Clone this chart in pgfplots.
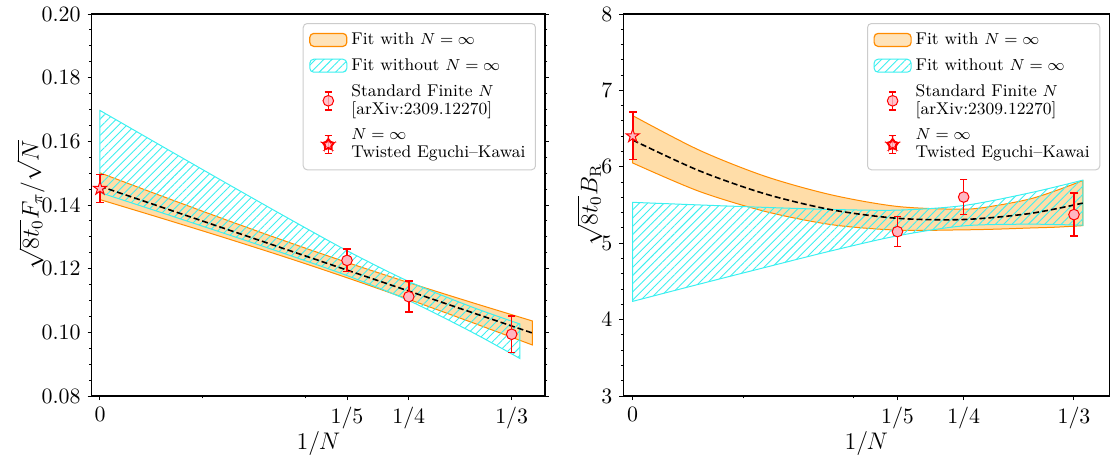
\documentclass[border=0pt]{standalone}
\usepackage{pgfplots}
\pgfplotsset{compat=1.18}
\usepgfplotslibrary{fillbetween}
\usetikzlibrary{patterns.meta}
\definecolor{bandfill}{RGB}{255,221,168}
\definecolor{bandedge}{RGB}{255,140,0}
\definecolor{hatch}{RGB}{60,240,240}
\definecolor{ptfill}{RGB}{255,182,193}
\pgfdeclareplotmark{fstar}{%
  \pgfpathmoveto{\pgfqpoint{0pt}{1\pgfplotmarksize}}%
  \pgfpathlineto{\pgfqpoint{-0.2245\pgfplotmarksize}{0.309\pgfplotmarksize}}%
  \pgfpathlineto{\pgfqpoint{-0.951\pgfplotmarksize}{0.309\pgfplotmarksize}}%
  \pgfpathlineto{\pgfqpoint{-0.3633\pgfplotmarksize}{-0.118\pgfplotmarksize}}%
  \pgfpathlineto{\pgfqpoint{-0.588\pgfplotmarksize}{-0.809\pgfplotmarksize}}%
  \pgfpathlineto{\pgfqpoint{0pt}{-0.382\pgfplotmarksize}}%
  \pgfpathlineto{\pgfqpoint{0.588\pgfplotmarksize}{-0.809\pgfplotmarksize}}%
  \pgfpathlineto{\pgfqpoint{0.3633\pgfplotmarksize}{-0.118\pgfplotmarksize}}%
  \pgfpathlineto{\pgfqpoint{0.951\pgfplotmarksize}{0.309\pgfplotmarksize}}%
  \pgfpathlineto{\pgfqpoint{0.2245\pgfplotmarksize}{0.309\pgfplotmarksize}}%
  \pgfpathclose
  \pgfusepathqfillstroke}

\pgfplotstableread{
x up lo
0 0.1501 0.1417
0.05 0.14281 0.13583
0.1 0.13563 0.12983
0.15 0.12866 0.12364
0.2 0.12197 0.11715
0.25 0.11561 0.11035
0.3 0.10951 0.10327
0.35 0.10358 0.09604
}\Lorange
\pgfplotstableread{
x up lo
0 0.1697 0.1439
0.05 0.15851 0.13757
0.1 0.14737 0.13117
0.15 0.13636 0.12466
0.2 0.12565 0.11783
0.25 0.11598 0.10998
0.3 0.10812 0.1003
0.34 0.10262 0.09178
}\Lcyan
\pgfplotstableread{
x y
0 0.1459
0.35 0.0998
}\Lfit
\pgfplotstableread{
x y e hi lo
0.2 0.1226 0.0035 0.1261 0.1191
0.25 0.1112 0.0049 0.1161 0.1063
0.33333 0.0994 0.0057 0.1051 0.0937
}\Lfinite
\pgfplotstableread{
x y e hi lo
0 0.1452 0.0044 0.1496 0.1408
}\Ltek

\pgfplotstableread{
x up lo
0 6.67 6.05
0.05 6.220 5.680
0.1 5.876 5.416
0.15 5.633 5.243
0.2 5.481 5.171
0.25 5.445 5.175
0.275 5.494 5.184
0.3 5.579 5.199
0.32 5.690 5.210
0.34 5.820 5.230
}\Rorange
\pgfplotstableread{
x up lo
0 5.535 4.239
0.05 5.501 4.463
0.1 5.469 4.683
0.15 5.442 4.900
0.2 5.433 5.097
0.25 5.493 5.227
0.3 5.659 5.249
0.34 5.825 5.235
}\Rcyan
\pgfplotstableread{
x y
0 6.35
0.05 5.950
0.1 5.646
0.15 5.438
0.2 5.326
0.25 5.310
0.3 5.389
0.34 5.525
}\Rfit
\pgfplotstableread{
x y e hi lo
0.2 5.152 0.196 5.348 4.956
0.25 5.604 0.228 5.832 5.376
0.33333 5.374 0.283 5.657 5.091
}\Rfinite
\pgfplotstableread{
x y e hi lo
0 6.404 0.31 6.714 6.094
}\Rtek

\pgfplotsset{
  common/.style={
    scale only axis,
    height=191pt,
    axis line style={black, line width=0.6pt},
    tick align=outside,
    xtick pos=lower,
    major tick length=2pt,
    minor tick length=1.2pt,
    tick style={black, line width=0.5pt},
    xtick={0,0.2,0.25,0.33333},
    xticklabels={$0$,$1/5$,$1/4$,$1/3$},
    minor xtick={0.08333,0.16667},
    ticklabel style={font=\fontsize{11}{13}\selectfont},
    label style={font=\fontsize{12}{14}\selectfont},
    xlabel={$1/N$},
    xlabel style={at={(axis description cs:0.5,0)}, anchor=base, yshift=-26.5pt},
    legend cell align=left,
    legend style={at={(1,1)}, anchor=north east, xshift=-4.5pt, yshift=-4.5pt,
      draw=black!20, fill=white, fill opacity=0.8, text opacity=1, draw opacity=1,
      rounded corners=2pt, line width=0.5pt,
      font=\fontsize{8.5}{9.2}\selectfont,
      cells={anchor=west, align=left}, row sep=1.5pt, inner xsep=3pt, inner ysep=2.5pt},
  },
  orangeleg/.style={legend image code/.code={\draw[bandedge, fill=bandfill, line width=0.6pt] (0pt,-3.25pt) rectangle (18.5pt,3.25pt);}},
  cyanleg/.style={legend image code/.code={\draw[hatch, line width=0.5pt, pattern={Lines[angle=45,distance=2.9pt,line width=0.45pt]}, pattern color=hatch] (0pt,-3.25pt) rectangle (18.5pt,3.25pt);}},
  circleg/.style={legend image code/.code={
    \draw[red, line width=0.8pt] (9.25pt,-4.5pt) -- (9.25pt,4.5pt);
    \draw[red, line width=0.8pt] (7.35pt,-4.5pt) -- (11.15pt,-4.5pt);
    \draw[red, line width=0.8pt] (7.35pt,4.5pt) -- (11.15pt,4.5pt);
    \draw[red, fill=ptfill, line width=0.5pt] (9.25pt,0pt) circle (2.65pt);}},
  starleg/.style={legend image code/.code={
    \draw[red, line width=0.8pt] (9.25pt,-4.5pt) -- (9.25pt,4.5pt);
    \draw[red, line width=0.8pt] (7.35pt,-4.5pt) -- (11.15pt,-4.5pt);
    \draw[red, line width=0.8pt] (7.35pt,4.5pt) -- (11.15pt,4.5pt);
    \draw[red, fill=ptfill, line width=0.5pt, shift={(9.25pt,0pt)}]
      (90:3.5pt) -- (126:1.34pt) -- (162:3.5pt) -- (198:1.34pt) -- (234:3.5pt) -- (270:1.34pt)
      -- (306:3.5pt) -- (342:1.34pt) -- (18:3.5pt) -- (54:1.34pt) -- cycle;}},
  barstyle/.style={forget plot, draw=none, mark=none,
    error bars/.cd, y dir=both, y explicit, error mark=none,
    error bar style={draw=red, line width=0.8pt, solid}},
  capstyle/.style={forget plot, only marks, mark=-, mark size=1.9pt,
    mark options={draw=red, line width=0.8pt, solid}},
  circstyle/.style={forget plot, only marks, mark=*, mark size=2.65pt,
    mark options={draw=red, fill=ptfill, line width=0.5pt}},
  starstyle/.style={forget plot, only marks, mark=fstar, mark size=3.5pt,
    mark options={draw=red, fill=ptfill, line width=0.5pt}},
}

\newcommand{\legendentries}{%
  \addlegendimage{orangeleg}\addlegendentry{Fit with $N=\infty$}
  \addlegendimage{cyanleg}\addlegendentry{Fit without $N=\infty$}
  \addlegendimage{circleg}\addlegendentry{Standard Finite $N$\\{[}arXiv:2309.12270{]}}
  \addlegendimage{starleg}\addlegendentry{$N=\infty$\\Twisted Eguchi--Kawai}
}
\newcommand{\points}[2]{%
  \addplot[barstyle] table[x=x, y=y, y error=e] {#1};
  \addplot[capstyle] table[x=x, y=hi] {#1};
  \addplot[capstyle] table[x=x, y=lo] {#1};
  \addplot[circstyle] table[x=x, y=y] {#1};
  \addplot[barstyle] table[x=x, y=y, y error=e] {#2};
  \addplot[capstyle] table[x=x, y=hi] {#2};
  \addplot[capstyle] table[x=x, y=lo] {#2};
  \addplot[starstyle] table[x=x, y=y] {#2};
}

\begin{document}
\begin{tikzpicture}
\begin{axis}[common,
  at={(45.85pt,30.5pt)}, anchor=south west, width=226.65pt,
  xmin=-0.0067, xmax=0.3603, ymin=0.08, ymax=0.20,
  ytick pos=both,
  ytick={0.08,0.1,0.12,0.14,0.16,0.18,0.2},
  minor y tick num=3,
  scaled y ticks=false,
  yticklabel style={/pgf/number format/.cd, fixed, fixed zerofill, precision=2},
  ylabel={$\sqrt{8t_0}F_\pi/\sqrt{N}$},
  ylabel style={at={(axis description cs:0,0.5)}, anchor=base, inner sep=0pt, yshift=26.5pt},
]
\legendentries
\addplot[forget plot, name path=lou, draw=none, smooth] table[x=x, y=up] {\Lorange};
\addplot[forget plot, name path=lol, draw=none, smooth] table[x=x, y=lo] {\Lorange};
\addplot[forget plot, fill=bandfill, draw=bandedge, line width=0.5pt] fill between[of=lou and lol];
\addplot[forget plot, name path=lcu, draw=none, smooth] table[x=x, y=up] {\Lcyan};
\addplot[forget plot, name path=lcl, draw=none, smooth] table[x=x, y=lo] {\Lcyan};
\addplot[forget plot, draw=hatch, line width=0.5pt, pattern={Lines[angle=45,distance=2.9pt,line width=0.45pt]}, pattern color=hatch] fill between[of=lcu and lcl];
\addplot[forget plot, black, line width=0.8pt, dash pattern=on 3pt off 1.5pt] table[x=x, y=y] {\Lfit};
\points{\Lfinite}{\Ltek}
\end{axis}

\begin{axis}[common,
  at={(311.65pt,30.5pt)}, anchor=south west, width=243pt,
  xmin=-0.0071, xmax=0.36, ymin=3, ymax=8,
  ytick pos=left,
  ytick={3,4,5,6,7,8},
  minor y tick num=4,
  ylabel={$\sqrt{8t_0}B_{\mathrm{R}}$},
  ylabel style={at={(axis description cs:0,0.5)}, anchor=base, inner sep=0pt, yshift=13pt},
]
\legendentries
\addplot[forget plot, name path=rou, draw=none, smooth] table[x=x, y=up] {\Rorange};
\addplot[forget plot, name path=rol, draw=none, smooth] table[x=x, y=lo] {\Rorange};
\addplot[forget plot, fill=bandfill, draw=bandedge, line width=0.5pt] fill between[of=rou and rol];
\addplot[forget plot, name path=rcu, draw=none, smooth] table[x=x, y=up] {\Rcyan};
\addplot[forget plot, name path=rcl, draw=none, smooth] table[x=x, y=lo] {\Rcyan};
\addplot[forget plot, draw=hatch, line width=0.5pt, pattern={Lines[angle=45,distance=2.9pt,line width=0.45pt]}, pattern color=hatch] fill between[of=rcu and rcl];
\addplot[forget plot, black, line width=0.8pt, dash pattern=on 3pt off 1.5pt, smooth] table[x=x, y=y] {\Rfit};
\points{\Rfinite}{\Rtek}
\end{axis}
\pgfresetboundingbox
\useasboundingbox (0,0) rectangle (555pt,228.5pt);
\end{tikzpicture}
\end{document}
